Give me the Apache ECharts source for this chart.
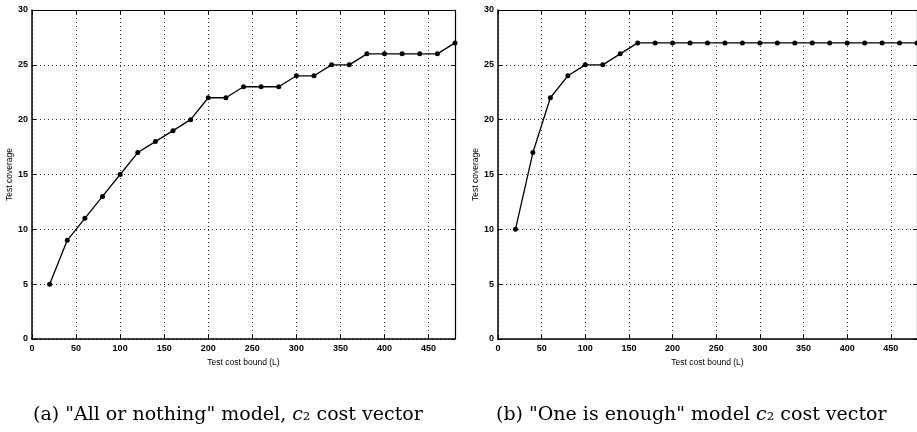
<!DOCTYPE html>
<html>
<head>
<meta charset="utf-8">
<script src="https://cdn.jsdelivr.net/npm/echarts@6/dist/echarts.min.js"></script>
<style>
  html, body { margin: 0; padding: 0; background: #fff; }
  #chart { width: 917px; height: 432px; }
</style>
</head>
<body>
<div id="chart"></div>
<script>
// Test cost bound values (L)
const costBoundA = [20, 40, 60, 80, 100, 120, 140, 160, 180, 200, 220, 240, 260, 280, 300, 320, 340, 360, 380, 400, 420, 440, 460, 480];
const coverageA  = [5, 9, 11, 13, 15, 17, 18, 19, 20, 22, 22, 23, 23, 23, 24, 24, 25, 25, 26, 26, 26, 26, 26, 27];

const costBoundB = [20, 40, 60, 80, 100, 120, 140, 160, 180, 200, 220, 240, 260, 280, 300, 320, 340, 360, 380, 400, 420, 440, 460, 480];
const coverageB  = [10, 17, 22, 24, 25, 25, 26, 27, 27, 27, 27, 27, 27, 27, 27, 27, 27, 27, 27, 27, 27, 27, 27, 27];

const xTicks = [0, 50, 100, 150, 200, 250, 300, 350, 400, 450];
const yTicks = [0, 5, 10, 15, 20, 25, 30];

const xLabel = 'Test cost bound (L)';
const yLabel = 'Test coverage';
// caption parts: text before the cost vector symbol, symbol, subscript, rest
const captionA = ['(a) "All or nothing" model, ', 'c', '\u2082', ' cost vector'];
const captionB = ['(b) "One is enough" model ', 'c', '\u2082', ' cost vector'];

const pairs = (xs, ys) => xs.map((x, i) => [x, ys[i]]);

const tickFont = { fontFamily: 'Liberation Sans, Arial, sans-serif', fontSize: 9, color: '#000', fontWeight: 'bold' };
const gridLine = { show: true, lineStyle: { color: '#333', width: 1, type: [1, 3] } };

function bottomAxis(gi) {
  return {
    type: 'value', gridIndex: gi, position: 'bottom', min: 0, max: 480, interval: 50,
    name: xLabel, nameLocation: 'middle', nameGap: 12,
    nameTextStyle: { fontFamily: 'Liberation Sans, Arial, sans-serif', fontSize: 8.5, color: '#000' },
    axisLine: { show: true, onZero: false, lineStyle: { color: '#000', width: 1.5 } },
    axisTick: { show: true, inside: true, length: 4, lineStyle: { color: '#000' } },
    axisLabel: Object.assign({ margin: 5, showMaxLabel: false, formatter: v => (xTicks.indexOf(v) >= 0 ? String(v) : '') }, tickFont),
    splitLine: gridLine
  };
}
function topAxis(gi) {
  return {
    type: 'value', gridIndex: gi, position: 'top', min: 0, max: 480, interval: 50,
    axisLine: { show: true, onZero: false, lineStyle: { color: '#000', width: 1.2 } },
    axisTick: { show: true, inside: true, length: 4, lineStyle: { color: '#000' } },
    axisLabel: { show: false }, splitLine: { show: false }
  };
}
function leftAxis(gi) {
  return {
    type: 'value', gridIndex: gi, position: 'left', min: 0, max: 30, interval: 5,
    name: yLabel, nameLocation: 'middle', nameGap: 17, nameRotate: 90,
    nameTextStyle: { fontFamily: 'Liberation Sans, Arial, sans-serif', fontSize: 8.5, color: '#000' },
    axisLine: { show: true, onZero: false, lineStyle: { color: '#000', width: 1.5 } },
    axisTick: { show: true, inside: true, length: 4, lineStyle: { color: '#000' } },
    axisLabel: Object.assign({ margin: 4, formatter: v => (yTicks.indexOf(v) >= 0 ? String(v) : '') }, tickFont),
    splitLine: gridLine
  };
}
function rightAxis(gi) {
  return {
    type: 'value', gridIndex: gi, position: 'right', min: 0, max: 30, interval: 5,
    axisLine: { show: true, onZero: false, lineStyle: { color: '#000', width: 1.2 } },
    axisTick: { show: true, inside: true, length: 4, lineStyle: { color: '#000' } },
    axisLabel: { show: false }, splitLine: { show: false }
  };
}
function lineSeries(xi, yi, data) {
  return {
    type: 'line', xAxisIndex: xi, yAxisIndex: yi, data: data,
    symbol: 'circle', symbolSize: 5, showSymbol: true,
    lineStyle: { color: '#000', width: 1.3 },
    itemStyle: { color: '#000' },
    animation: false, z: 5
  };
}

const serif = 'DejaVu Serif, Liberation Serif, serif';
const captionRich = {
  n: { fontFamily: serif, fontSize: 19, fontWeight: 'normal', color: '#000' },
  i: { fontFamily: serif, fontSize: 19, fontWeight: 'normal', fontStyle: 'italic', color: '#000' }
};
function caption(parts, left) {
  return {
    text: '{n|' + parts[0] + '}{i|' + parts[1] + '}{n|' + parts[2] + parts[3] + '}',
    left: left, top: 401,
    textStyle: { rich: captionRich, fontSize: 19, fontWeight: 'normal' }
  };
}

const chart = echarts.init(document.getElementById('chart'), null, { renderer: 'canvas' });
chart.setOption({
  backgroundColor: '#fff',
  animation: false,
  grid: [
    { left: 32, top: 10, width: 423, height: 329 },
    { left: 498, top: 10, width: 426, height: 329 }
  ],
  xAxis: [bottomAxis(0), topAxis(0), bottomAxis(1), topAxis(1)],
  yAxis: [leftAxis(0), rightAxis(0), leftAxis(1), rightAxis(1)],
  series: [
    lineSeries(0, 0, pairs(costBoundA, coverageA)),
    lineSeries(2, 2, pairs(costBoundB, coverageB))
  ],
  title: [caption(captionA, 28), caption(captionB, 491)]
});
</script>
</body>
</html>
